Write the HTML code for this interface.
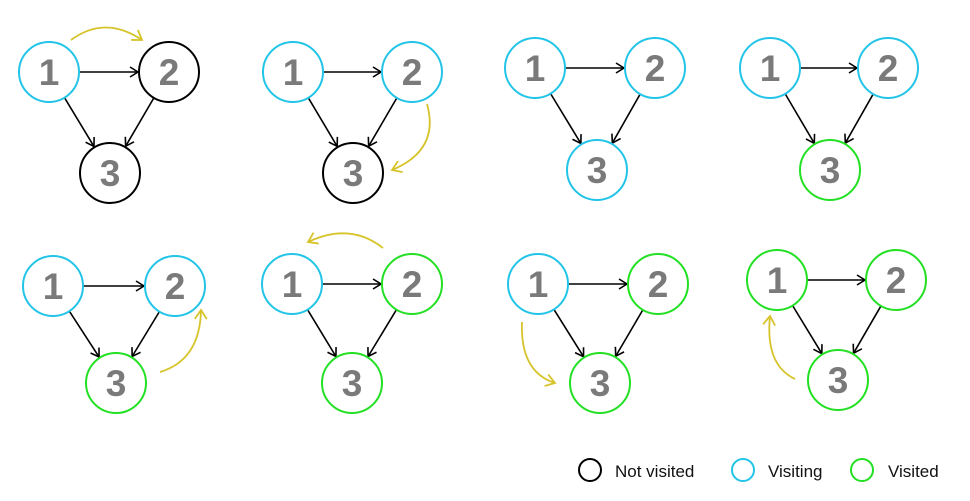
<!DOCTYPE html>
<html><head><style>
html,body{margin:0;padding:0;background:#fff;}
svg{display:block}
text{font-family:"Liberation Sans",sans-serif}
</style></head><body>
<svg id="s" width="970" height="501" xmlns="http://www.w3.org/2000/svg">
<defs>
<marker id="a" markerWidth="12" markerHeight="12" refX="10" refY="6" orient="auto" markerUnits="userSpaceOnUse"><path d="M2,1 L10,6 L2,11" fill="none" stroke="#000" stroke-width="1.6"/></marker>
<marker id="y" markerWidth="14" markerHeight="14" refX="11" refY="7" orient="auto" markerUnits="userSpaceOnUse"><path d="M2,1 L11,7 L2,13" fill="none" stroke="#d6c42a" stroke-width="1.8"/></marker>
</defs>
<g id="g"></g>
<circle cx="590" cy="470" r="11" fill="none" stroke="#000" stroke-width="2"/>
<text x="615" y="477" font-size="17" fill="#111">Not visited</text>
<circle cx="743" cy="470" r="11" fill="none" stroke="#22c4e8" stroke-width="2"/>
<text x="768" y="477" font-size="17" fill="#111">Visiting</text>
<circle cx="862" cy="470" r="11" fill="none" stroke="#22e022" stroke-width="2"/>
<text x="888" y="477" font-size="17" fill="#111">Visited</text>
</svg>
<script>
var C={c:"#22c4e8",k:"#000",g:"#22e022"};
var G=[
[[49,72],[169,72],[110,173],"ckk","M71,40 Q105,15 142,40"],
[[293,72],[412,72],[353,173],"cck","M427,104 Q440,150 392,170"],
[[535,68],[655,68],[597,170],"ccc",""],
[[770,68],[888,68],[830,170],"ccg",""],
[[53,286],[175,286],[116,383],"ccg","M160,372 Q200,360 201,310"],
[[292,284],[412,284],[352,383],"cgg","M383,248 Q350,222 308,242"],
[[538,284],[658,284],[600,383],"cgg","M522,322 Q520,372 555,383"],
[[777,280],[896,280],[838,380],"ggg","M795,379 Q765,365 770,316"]];
var h="",R=30;
function e(p,q){var dx=q[0]-p[0],dy=q[1]-p[1],d=Math.hypot(dx,dy);
return '<line x1="'+(p[0]+dx/d*R)+'" y1="'+(p[1]+dy/d*R)+'" x2="'+(q[0]-dx/d*(R+1))+'" y2="'+(q[1]-dy/d*(R+1))+'" stroke="#000" stroke-width="1.6" marker-end="url(#a)"/>';}
G.forEach(function(g){
h+=e(g[0],g[1])+e(g[0],g[2])+e(g[1],g[2]);
for(var i=0;i<3;i++){var p=g[i];
h+='<circle cx="'+p[0]+'" cy="'+p[1]+'" r="'+R+'" fill="#fff" stroke="'+C[g[3][i]]+'" stroke-width="2"/>';
h+='<text x="'+p[0]+'" y="'+(p[1]+13)+'" font-size="37" font-weight="bold" fill="#7a7a7a" text-anchor="middle">'+(i+1)+'</text>';}
if(g[4])h+='<path d="'+g[4]+'" fill="none" stroke="#d6c42a" stroke-width="1.8" marker-end="url(#y)"/>';
});
document.getElementById("g").innerHTML=h;
</script>
</body></html>
